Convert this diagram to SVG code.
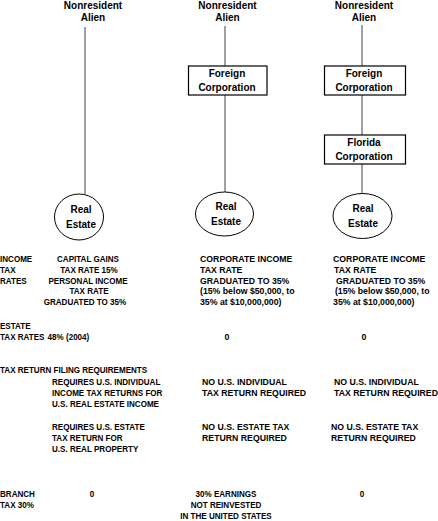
<svg xmlns="http://www.w3.org/2000/svg" width="438" height="521" viewBox="0 0 438 521">
<style>
.t{font-family:"Liberation Sans",Arial,sans-serif;font-weight:bold;font-size:10px;fill:#000;text-anchor:middle}
.b{font-family:"Liberation Sans",Arial,sans-serif;font-weight:bold;font-size:9.5px;fill:#000}
.m{text-anchor:middle}
.ln{stroke:#444;stroke-width:1;fill:none}
.box{fill:#fff;stroke:#000;stroke-width:1.2}
.ell{fill:#fff;stroke:#000;stroke-width:1}
</style>
<rect width="438" height="521" fill="#fff"/>
<g id="connectors">
<line class="ln" x1="85" y1="27" x2="85" y2="194"/>
<line class="ln" x1="225" y1="26" x2="225" y2="66"/>
<line class="ln" x1="225" y1="95" x2="225" y2="192"/>
<line class="ln" x1="362" y1="25" x2="362" y2="66"/>
<line class="ln" x1="362" y1="95" x2="362" y2="135"/>
<line class="ln" x1="362" y1="164" x2="362" y2="194"/>
</g>
<g id="alien1"><text class="t" x="93" y="8.5">Nonresident</text><text class="t" x="93" y="21">Alien</text></g>
<g id="alien2"><text class="t" x="227.5" y="8.5">Nonresident</text><text class="t" x="227.5" y="21">Alien</text></g>
<g id="alien3"><text class="t" x="364" y="8.5">Nonresident</text><text class="t" x="364" y="21">Alien</text></g>
<g id="foreign2"><rect class="box" x="188.5" y="66" width="78.5" height="29"/><text class="t" x="227" y="76.5">Foreign</text><text class="t" x="227" y="91">Corporation</text></g>
<g id="foreign3"><rect class="box" x="324.5" y="66" width="81" height="29"/><text class="t" x="364" y="76.5">Foreign</text><text class="t" x="364" y="91">Corporation</text></g>
<g id="florida3"><rect class="box" x="324.5" y="135" width="81" height="29"/><text class="t" x="364" y="145.5">Florida</text><text class="t" x="364" y="160">Corporation</text></g>
<g id="realestate1"><ellipse class="ell" cx="79" cy="217" rx="24.5" ry="23"/><text class="t" x="81" y="213">Real</text><text class="t" x="81" y="228">Estate</text></g>
<g id="realestate2"><ellipse class="ell" cx="224.5" cy="214" rx="29" ry="22"/><text class="t" x="226" y="210">Real</text><text class="t" x="226" y="225">Estate</text></g>
<g id="realestate3"><ellipse class="ell" cx="362.5" cy="216" rx="29.5" ry="22.5"/><text class="t" x="363" y="212">Real</text><text class="t" x="363" y="227">Estate</text></g>
<g id="table-left" transform="scale(0.85,1)">
<text class="b" x="0" y="262">INCOME</text>
<text class="b" x="0" y="272.8">TAX</text>
<text class="b" x="0" y="283.6">RATES</text>
<text class="b m" x="103.5" y="262">CAPITAL GAINS</text>
<text class="b m" x="104.7" y="272.8">TAX RATE 15%</text>
<text class="b m" x="103.5" y="283.6">PERSONAL INCOME</text>
<text class="b m" x="104.7" y="294.4">TAX RATE</text>
<text class="b m" x="100" y="305.2">GRADUATED TO 35%</text>
<text class="b" x="0" y="329">ESTATE</text>
<text class="b" x="0" y="339.8">TAX RATES</text>
<text class="b" x="56" y="339.8">48% (2004)</text>
<text class="b" x="0" y="373.5">TAX RETURN FILING REQUIREMENTS</text>
<text class="b" x="61.2" y="385">REQUIRES U.S. INDIVIDUAL</text>
<text class="b" x="61.2" y="395.8">INCOME TAX RETURNS FOR</text>
<text class="b" x="61.2" y="406.6">U.S. REAL ESTATE INCOME</text>
<text class="b" x="61.2" y="430.5">REQUIRES U.S. ESTATE</text>
<text class="b" x="61.2" y="441.3">TAX RETURN FOR</text>
<text class="b" x="61.2" y="452.1">U.S. REAL PROPERTY</text>
<text class="b" x="0" y="497">BRANCH</text>
<text class="b" x="0" y="507.8">TAX 30%</text>
<text class="b m" x="108.2" y="497">0</text>
<text class="b m" x="265.9" y="497">30% EARNINGS</text>
<text class="b m" x="265.9" y="507.8">NOT REINVESTED</text>
<text class="b m" x="265.9" y="518.6">IN THE UNITED STATES</text>
<text class="b m" x="425.9" y="497">0</text>
</g>
<g id="table-right" transform="scale(0.92,1)">
<text class="b" x="217.4" y="262">CORPORATE INCOME</text>
<text class="b" x="217.4" y="272.8">TAX RATE</text>
<text class="b" x="217.4" y="283.6">GRADUATED TO 35%</text>
<text class="b" x="217.4" y="294.4">(15% below $50,000, to</text>
<text class="b" x="217.4" y="305.2">35% at $10,000,000)</text>
<text class="b" x="362" y="262">CORPORATE INCOME</text>
<text class="b" x="363" y="272.8">TAX RATE</text>
<text class="b" x="365.2" y="283.6">GRADUATED TO 35%</text>
<text class="b" x="364.1" y="294.4">(15% below $50,000, to</text>
<text class="b" x="362" y="305.2">35% at $10,000,000)</text>
<text class="b m" x="246.7" y="339.8">0</text>
<text class="b m" x="395.7" y="339.8">0</text>
<text class="b" x="219.6" y="385">NO U.S. INDIVIDUAL</text>
<text class="b" x="219.6" y="395.8">TAX RETURN REQUIRED</text>
<text class="b" x="363" y="385">NO U.S. INDIVIDUAL</text>
<text class="b" x="363" y="395.8">TAX RETURN REQUIRED</text>
<text class="b" x="219.6" y="430.5">NO U.S. ESTATE TAX</text>
<text class="b" x="219.6" y="441.3">RETURN REQUIRED</text>
<text class="b" x="359.8" y="430.5">NO U.S. ESTATE TAX</text>
<text class="b" x="359.8" y="441.3">RETURN REQUIRED</text>
</g>
</svg>
